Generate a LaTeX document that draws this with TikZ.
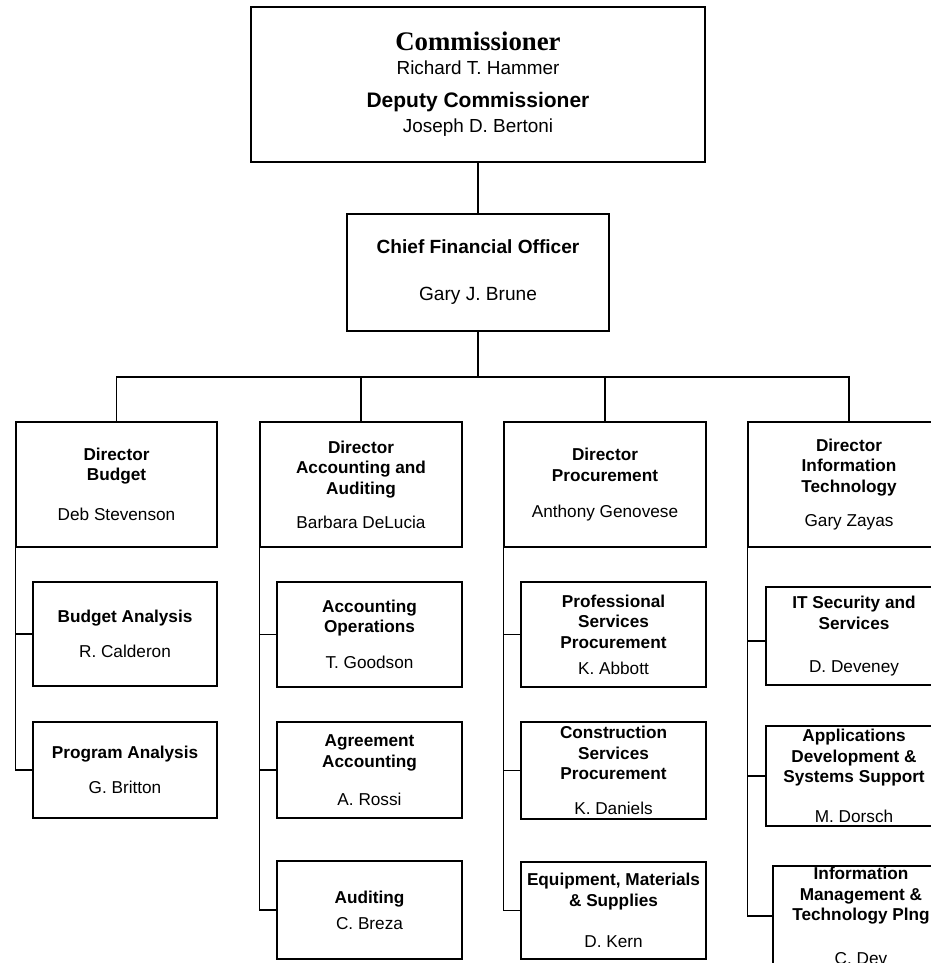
\documentclass[tikz,border=0pt]{standalone}
\usepackage{fontspec}
\setmainfont{Liberation Sans}
\newfontfamily\timesfont{Liberation Serif}
\begin{document}
\begin{tikzpicture}[x=1pt,y=-1pt,
  box/.style={draw=black, line width=1.1pt, fill=white, rectangle, inner sep=0pt,
    align=center, font=\fontsize{17.2}{20.6}\selectfont},
  link/.style={draw=black, line width=1.1pt},
  lbl/.style={inner sep=0pt, anchor=base}]
\useasboundingbox (0,0) rectangle (930,963);

% top box
\node[box, minimum width=454pt, minimum height=155pt] (top) at (478,84.5) {};
\node[lbl, font=\timesfont\bfseries\fontsize{26.8}{30}\selectfont] (t1) at (478,50.9) {Commissioner};
\node[lbl, font=\fontsize{18.9}{22}\selectfont] (t2) at (478,74.8) {Richard T. Hammer};
\node[lbl, font=\bfseries\fontsize{21}{25}\selectfont] (t3) at (478,107.5) {Deputy Commissioner};
\node[lbl, font=\fontsize{18.9}{22}\selectfont] (t4) at (478,132.8) {Joseph D. Bertoni};

% CFO
\node[box, minimum width=262pt, minimum height=117pt, font=\fontsize{19.1}{23}\selectfont] (cfo) at (478,272.5)
  {\textbf{Chief Financial Officer}\\[24pt]Gary J. Brune};

% directors
\node[box, minimum width=201pt, minimum height=125pt] (budget) at (116.5,484.5)
  {\textbf{Director}\\\textbf{Budget}\\[19.4pt]Deb Stevenson};
\node[box, minimum width=202pt, minimum height=125pt] (acct) at (361,484.5)
  {\textbf{Director}\\\textbf{Accounting and}\\\textbf{Auditing}\\[13.4pt]Barbara DeLucia};
\node[box, minimum width=202pt, minimum height=125pt] (proc) at (605,484.5)
  {\textbf{Director}\\\textbf{Procurement}\\[15.4pt]Anthony Genovese};
\node[box, minimum width=202pt, minimum height=125pt] (it) at (849,484.5)
  {\textbf{Director}\\\textbf{Information}\\\textbf{Technology}\\[13.4pt]Gary Zayas};

% budget children
\node[box, minimum width=184pt, minimum height=104pt] (ba) at (125,634)
  {\textbf{Budget Analysis}\\[14.4pt]R. Calderon};
\node[box, minimum width=184pt, minimum height=96pt] (pa) at (125,770)
  {\textbf{Program Analysis}\\[14.4pt]G. Britton};

% accounting children
\node[box, minimum width=185pt, minimum height=105pt] (ao) at (369.5,634.5)
  {\textbf{Accounting}\\\textbf{Operations}\\[15.4pt]T. Goodson};
\node[box, minimum width=185pt, minimum height=96pt] (aa) at (369.5,770)
  {\textbf{Agreement}\\\textbf{Accounting}\\[17.4pt]A. Rossi};
\node[box, minimum width=185pt, minimum height=98pt] (aud) at (369.5,910)
  {\textbf{Auditing}\\[5.4pt]C. Breza};

% procurement children
\node[box, minimum width=185pt, minimum height=105pt] (psp) at (613.5,634.5)
  {\textbf{Professional}\\\textbf{Services}\\\textbf{Procurement}\\[5.4pt]K. Abbott};
\node[box, minimum width=185pt, minimum height=97pt] (csp) at (613.5,770.5)
  {\textbf{Construction}\\\textbf{Services}\\\textbf{Procurement}\\[14.4pt]K. Daniels};
\node[box, minimum width=185pt, minimum height=97pt] (ems) at (613.5,910.5)
  {\textbf{Equipment, Materials}\\\textbf{\& Supplies}\\[20.4pt]D. Kern};

% IT children
\node[box, minimum width=176pt, minimum height=98pt] (itsec) at (854,636)
  {\textbf{IT Security and}\\\textbf{Services}\\[22.4pt]D. Deveney};
\node[box, minimum width=176pt, minimum height=100pt] (apps) at (854,776)
  {\textbf{Applications}\\\textbf{Development \&}\\\textbf{Systems Support}\\[19.4pt]M. Dorsch};
\node[box, minimum width=176pt, minimum height=100pt] (imt) at (861,916)
  {\textbf{Information}\\\textbf{Management \&}\\\textbf{Technology Plng}\\[23.4pt]C. Dev};

% connectors
\coordinate (bus) at (478,377);
\draw[link] (top.south) -- (cfo.north);
\draw[link] (cfo.south) -- (bus);
\draw[link] (budget.north) |- (bus);
\draw[link] (acct.north) |- (bus);
\draw[link] (proc.north) |- (bus);
\draw[link] (it.north) |- (bus);

\draw[link] (budget.west) |- (ba.west);
\draw[link] (budget.west) |- (pa.west);
\draw[link] (acct.west) |- (ao.west);
\draw[link] (acct.west) |- (aa.west);
\draw[link] (acct.west) |- (aud.west);
\draw[link] (proc.west) |- (psp.west);
\draw[link] (proc.west) |- (csp.west);
\draw[link] (proc.west) |- (ems.west);
\draw[link] (it.west) |- ([yshift=-5pt]itsec.west);
\draw[link] (it.west) |- (apps.west);
\draw[link] (it.west) |- (imt.west);
\end{tikzpicture}
\end{document}
